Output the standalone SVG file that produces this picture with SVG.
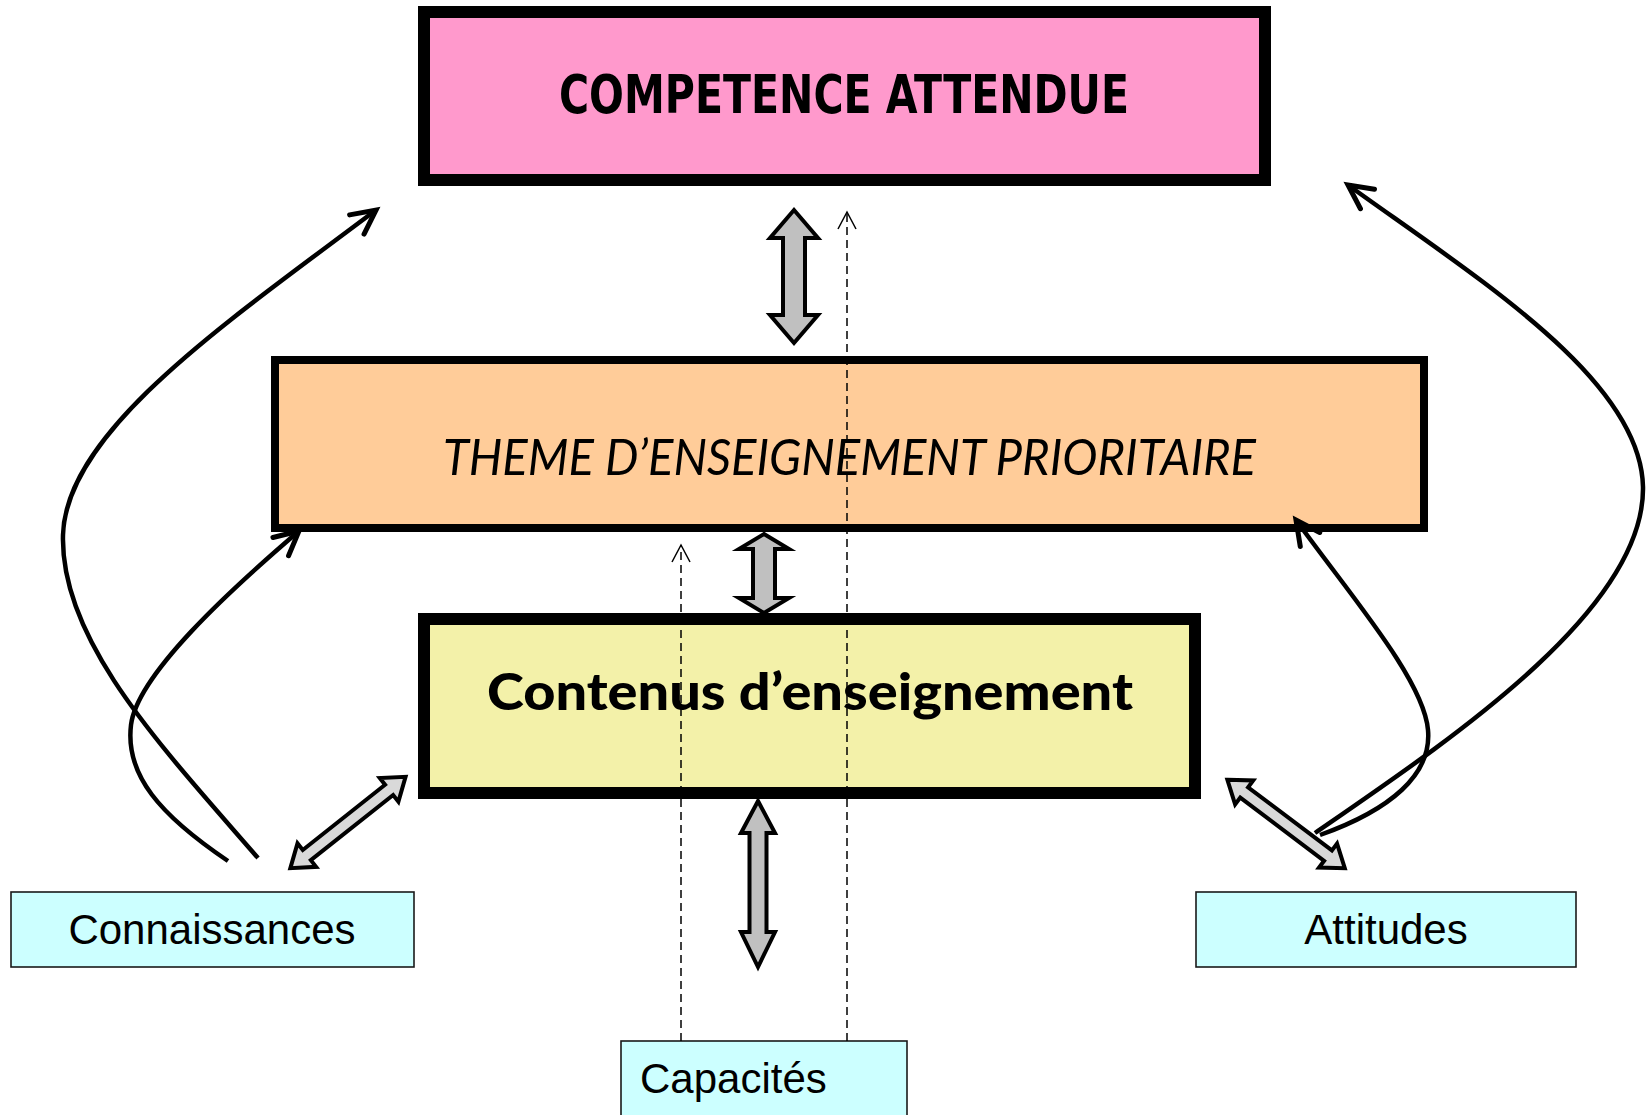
<svg xmlns="http://www.w3.org/2000/svg" width="1651" height="1115" viewBox="0 0 1651 1115">
<style>
.box{stroke:#000}
.small{fill:#CCFFFF;stroke:#1a1a1a;stroke-width:1.6}
.lbl{font-family:"Liberation Sans",Arial,sans-serif;font-size:42px;fill:#000}
.curve{fill:none;stroke:#000;stroke-width:4.5;stroke-linecap:butt}
.dash{fill:none;stroke:#000;stroke-width:1.5;stroke-dasharray:8 5}
.blk{fill:#C0C0C0;stroke:#000;stroke-width:4;stroke-linejoin:miter}
.blk2{fill:#D9D9D9;stroke:#000;stroke-width:4;stroke-linejoin:miter}
</style>
<defs>
<marker id="open" markerUnits="userSpaceOnUse" markerWidth="40" markerHeight="40" refX="0" refY="0" orient="auto" overflow="visible" viewBox="-30 -20 40 40">
<path d="M-24,-12 L0,0 L-24,12" fill="none" stroke="#000" stroke-width="5" stroke-linecap="round" stroke-linejoin="miter"/>
</marker>
<marker id="thin" markerUnits="userSpaceOnUse" markerWidth="30" markerHeight="30" refX="0" refY="0" orient="auto" overflow="visible" viewBox="-20 -15 30 30">
<path d="M-17,-9 L0,0 L-17,9" fill="none" stroke="#000" stroke-width="1.5"/>
</marker>
</defs>
<rect width="1651" height="1115" fill="#fff"/>

<g id="competence">
<rect class="box" x="424" y="12" width="841" height="168" fill="#FF99CC" stroke-width="12"/>
<text x="559" y="113" textLength="570" lengthAdjust="spacingAndGlyphs" font-family="'DejaVu Sans Condensed','DejaVu Sans',sans-serif" font-weight="bold" font-size="54" fill="#000">COMPETENCE ATTENDUE</text>
</g>

<g id="theme">
<rect class="box" x="275" y="360" width="1149" height="168" fill="#FFCC99" stroke-width="8"/>
<text x="443" y="475" textLength="813" lengthAdjust="spacingAndGlyphs" font-family="Lato,'Open Sans',sans-serif" font-style="italic" font-size="50" fill="#000">THEME D’ENSEIGNEMENT PRIORITAIRE</text>
</g>

<g id="contenus">
<rect class="box" x="424" y="619" width="771" height="174" fill="#F3F1A9" stroke-width="12"/>
<text x="487" y="710" textLength="646" lengthAdjust="spacingAndGlyphs" font-family="Lato,'DejaVu Sans',sans-serif" font-weight="900" font-size="52" fill="#000">Contenus d’enseignement</text>
</g>

<g id="connaissances">
<rect class="small" x="11" y="892" width="403" height="75"/>
<text class="lbl" x="212" y="944" text-anchor="middle">Connaissances</text>
</g>

<g id="attitudes">
<rect class="small" x="1196" y="892" width="380" height="75"/>
<text class="lbl" x="1386" y="944" text-anchor="middle">Attitudes</text>
</g>

<g id="capacites">
<rect class="small" x="621" y="1041" width="286" height="90"/>
<text class="lbl" x="640" y="1093">Capacités</text>
</g>

<g id="connectors">
<path class="blk" d="M794,210 L818,238 L805,238 L805,315 L818,315 L794,343 L770,315 L783,315 L783,238 L770,238 Z"/>
<path class="blk" d="M764,534 L789,549 L775,549 L775,598 L789,598 L764,613 L739,598 L753,598 L753,549 L739,549 Z"/>
<path class="blk" d="M758,801 L775,833 L766.5,833 L766.5,932 L775,932 L758,967 L741,932 L749.5,932 L749.5,833 L741,833 Z"/>
<path class="blk2" transform="translate(288,870) rotate(-38.4)" d="M3,0 L24,-15 L24,-6.5 L129,-6.5 L129,-15 L150,0 L129,15 L129,6.5 L24,6.5 L24,15 Z"/>
<path class="blk2" transform="translate(1225,778) rotate(37)" d="M3,0 L24,-15 L24,-6.5 L129,-6.5 L129,-15 L150,0 L129,15 L129,6.5 L24,6.5 L24,15 Z"/>

<path class="dash" d="M681,1041 L681,545" marker-end="url(#thin)"/>
<path class="dash" d="M847,1041 L847,212" marker-end="url(#thin)"/>

<path class="curve" d="M258,858 C160,745 60,640 63,535 C66,430 230,320 376,210" marker-end="url(#open)"/>
<path class="curve" d="M228,861 C160,815 125,775 131,725 C137,675 230,590 299,531" marker-end="url(#open)"/>
<path class="curve" d="M1315,833 C1450,740 1645,610 1643,487 C1641,380 1480,280 1348,185" marker-end="url(#open)"/>
<path class="curve" d="M1320,835 C1390,810 1432,775 1428,730 C1424,680 1350,595 1296,520" marker-end="url(#open)"/>
</g>
</svg>
